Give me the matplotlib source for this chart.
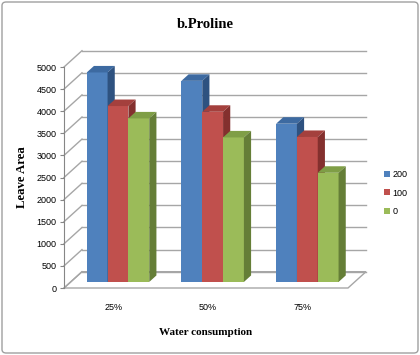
import matplotlib.pyplot as plt
from matplotlib.patches import Polygon, FancyBboxPatch, Patch

categories = ['25%', '50%', '75%']
series = ['200', '100', '0']
vals_200 = [4740, 4550, 3580]
vals_100 = [3980, 3850, 3280]
vals_0 = [3700, 3270, 2470]
y_ticks = list(range(0, 5001, 500))

front_colors = ['#4F81BD', '#C0504D', '#9BBB59']
top_colors = ['#3D6AA1', '#A4403D', '#7F9E46']
side_colors = ['#2E5280', '#84302E', '#657E37']
grid_col = '#A6A6A6'

plt.rcParams['font.family'] = 'Liberation Sans'

fig = plt.figure(figsize=(4.2, 3.55), dpi=100)
ax = fig.add_axes([64 / 420, 1 - 288 / 355, 284 / 420, 221 / 355])
ax.set_xlim(0, 3)
ax.set_ylim(0, 5000)

# fake 3d depth (data units)
DX, DY = 0.19, 369
f0, f1 = 0.37, 0.77
bw = 0.22

# floor
floor = Polygon([(0, 0), (3, 0), (3 + DX, DY), (DX, DY)], closed=True,
                facecolor='white', edgecolor=grid_col, lw=1, clip_on=False, zorder=1)
ax.add_patch(floor)
# back wall + left wall gridlines
for t in y_ticks:
    ax.plot([DX, 3 + DX], [t + DY, t + DY], color=grid_col, lw=1, clip_on=False, zorder=1)
    ax.plot([0, DX], [t, t + DY], color=grid_col, lw=1, clip_on=False, zorder=1)

# bars
all_vals = [vals_200, vals_100, vals_0]
z = 3
for i in range(len(categories)):
    for j in range(len(series)):
        v = all_vals[j][i]
        x0 = i + 0.5 - 1.5 * bw + j * bw + f0 * DX
        y0 = f0 * DY
        d = f1 - f0
        ax.bar(x0, v, width=bw, bottom=y0, align='edge', color=front_colors[j],
               lw=0, zorder=z, clip_on=False)
        top = Polygon([(x0, y0 + v), (x0 + bw, y0 + v), (x0 + bw + d * DX, y0 + v + d * DY),
                       (x0 + d * DX, y0 + v + d * DY)], closed=True,
                      facecolor=top_colors[j], lw=0, zorder=z, clip_on=False)
        side = Polygon([(x0 + bw, y0), (x0 + bw + d * DX, y0 + d * DY),
                        (x0 + bw + d * DX, y0 + v + d * DY), (x0 + bw, y0 + v)], closed=True,
                       facecolor=side_colors[j], lw=0, zorder=z, clip_on=False)
        ax.add_patch(top)
        ax.add_patch(side)
        z += 1

for s in ['top', 'right', 'bottom']:
    ax.spines[s].set_visible(False)
ax.spines['left'].set_color('#868686')
ax.spines['left'].set_zorder(2)
ax.set_yticks(y_ticks)
ax.set_yticklabels([str(t) for t in y_ticks])
ax.tick_params(axis='y', length=3, color='#868686', pad=2.5, labelsize=6.5)
ax.set_xticks([i + 0.52 for i in range(len(categories))])
ax.set_xticklabels(categories)
ax.tick_params(axis='x', length=0, pad=11, labelsize=6.5)
ax.patch.set_visible(False)

ax.set_ylabel('Leave Area', family='Liberation Serif', fontweight='bold', fontsize=9.2, labelpad=6)
ax.set_xlabel('Water consumption', family='Liberation Serif', fontweight='bold', fontsize=8, labelpad=11)
fig.text(205 / 420, 1 - 24 / 355, 'b.Proline', family='Liberation Serif', fontweight='bold',
         fontsize=10.5, ha='center', va='center')

handles = [Patch(facecolor=c, edgecolor='none') for c in front_colors]
fig.legend(handles, series, loc='center left', bbox_to_anchor=(384 / 420, 1 - 193 / 355),
           frameon=False, fontsize=6.5, handlelength=0.65, handleheight=0.65,
           handletextpad=0.3, labelspacing=1.05, borderaxespad=0, borderpad=0)

border = FancyBboxPatch((2 / 420, 2 / 355), 416 / 420, 351 / 355, transform=fig.transFigure,
                        boxstyle='round,pad=0,rounding_size=0.01', facecolor='none',
                        edgecolor='#A0A0A0', lw=1)
fig.patches.append(border)

fig.savefig('out.png', dpi=100)
